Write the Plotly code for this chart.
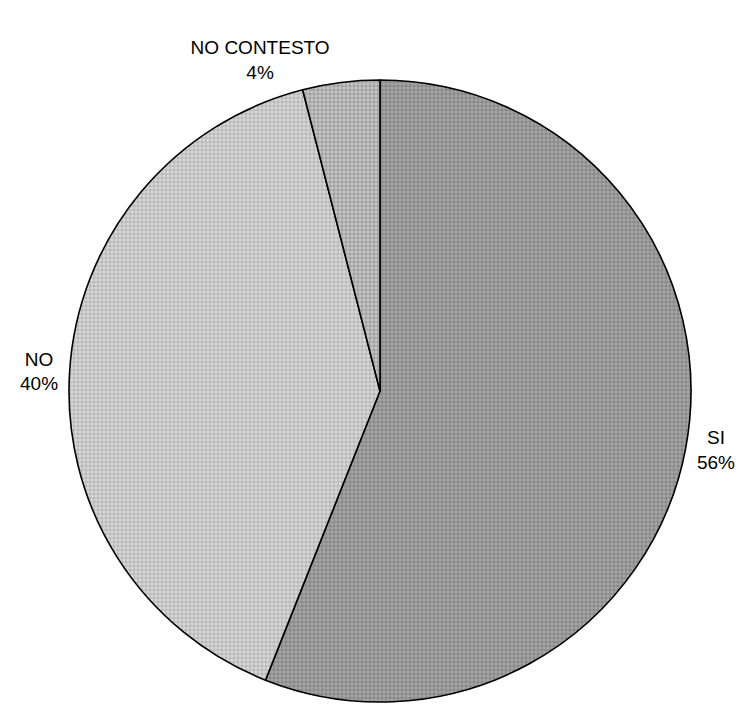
import plotly.graph_objects as go

# Survey answers and their share of responses (%)
labels = ["SI", "NO", "NO CONTESTO"]
values = [56, 40, 4]

fill_bg = ["#a6a6a6", "#d8d8d8", "#c6c6c6"]
fill_fg = ["#7a7a7a", "#a8a8a8", "#8e8e8e"]

fig = go.Figure(
    go.Pie(
        labels=labels,
        values=values,
        sort=False,
        direction="clockwise",
        rotation=0,
        textposition="outside",
        texttemplate="%{label}<br>%{percent:.0%}",
        textfont=dict(family="Liberation Sans, Arial, sans-serif", size=19, color="#000000"),
        marker=dict(
            colors=fill_bg,
            line=dict(color="#000000", width=1.6),
            pattern=dict(
                shape=["+", "+", "+"],
                fgcolor=fill_fg,
                bgcolor=fill_bg,
                size=4,
                solidity=0.35,
            ),
        ),
        showlegend=False,
        hoverinfo="label+percent",
    )
)

fig.update_layout(
    width=747,
    height=707,
    paper_bgcolor="#ffffff",
    plot_bgcolor="#ffffff",
    margin=dict(l=65, r=50, t=80, b=0),
)

fig.write_html("out.html")
